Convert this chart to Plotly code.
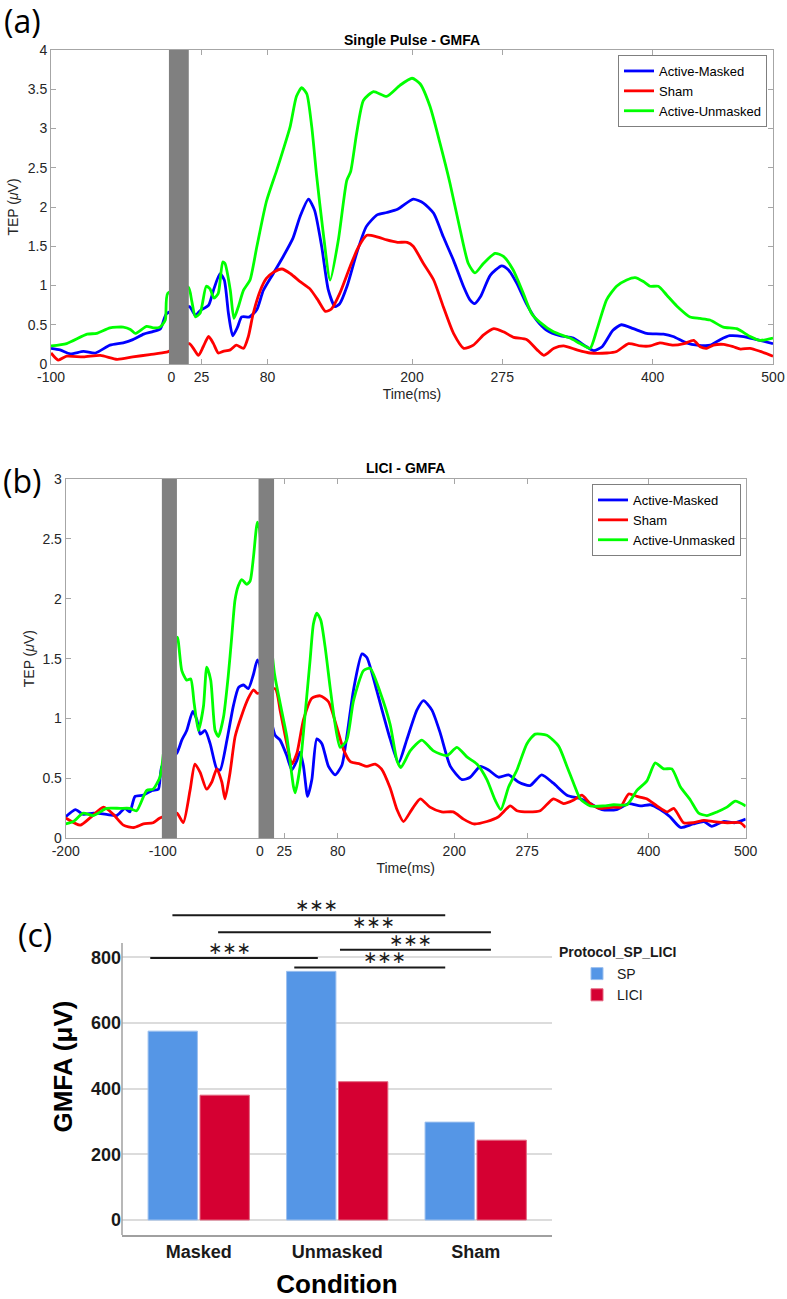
import plotly.graph_objects as go

W, H = 787, 1299

# ---------------- Panel (a): Single Pulse - GMFA ----------------
a_masked_t = [-100, -92.5, -84, -73, -63, -51, -40, -32, -23, -16, -9, -4,
              15, 20, 24, 31, 35, 40.5, 44, 47.5, 51, 55, 58.5, 65, 71, 76.5, 85, 93, 101, 107, 114, 119,
              125, 130.5, 136, 140, 146, 154, 162, 171, 179, 188, 201, 209.5, 218, 226, 234.5, 243,
              248, 252, 257, 265, 274.5, 280, 287, 295, 303.5, 312, 323, 334, 345, 351, 358, 367,
              374, 384, 395, 409, 417, 428, 437, 448, 456, 464, 475.5, 486.5, 500]
a_masked_v = [0.20, 0.18, 0.13, 0.16, 0.14, 0.24, 0.27, 0.31, 0.38, 0.41, 0.45, 0.64,
              0.73, 0.62, 0.68, 0.75, 0.94, 1.15, 1.07, 0.64, 0.36, 0.47, 0.60, 0.60, 0.69, 0.94, 1.16, 1.37, 1.60, 1.88, 2.10, 1.96,
              1.49, 0.94, 0.73, 0.77, 0.99, 1.41, 1.75, 1.90, 1.93, 1.97, 2.10, 2.05, 1.92, 1.62, 1.32, 0.98,
              0.82, 0.77, 0.86, 1.13, 1.25, 1.20, 1.03, 0.77, 0.56, 0.43, 0.36, 0.33, 0.22, 0.17, 0.22, 0.43,
              0.50, 0.45, 0.39, 0.38, 0.35, 0.27, 0.24, 0.24, 0.31, 0.36, 0.35, 0.31, 0.26]

a_sham_t = [-100, -94, -87, -73, -59, -45, -32, -18, -4,
            15, 22.5, 26.5, 31, 35, 39, 43, 49, 54, 60, 64, 68, 74, 79, 85, 92, 99, 107, 115, 122, 128,
            133, 140, 148.5, 155.5, 162.5, 171, 179, 188, 196, 201, 209.5, 218, 226, 234.5, 243, 251,
            259.5, 268, 276, 284.5, 295.5, 304, 309.5, 318, 326, 337, 348, 362, 370, 380, 390, 398,
            406, 417, 426, 434, 439.5, 445, 450.5, 459, 467, 473, 481, 489.5, 500]
a_sham_v = [0.14, 0.05, 0.10, 0.09, 0.11, 0.06, 0.09, 0.12, 0.15,
            0.26, 0.11, 0.22, 0.35, 0.26, 0.14, 0.16, 0.18, 0.24, 0.20, 0.35, 0.64, 0.94, 1.09, 1.17, 1.21, 1.15, 1.05, 0.96, 0.81, 0.67,
            0.70, 0.90, 1.24, 1.49, 1.64, 1.62, 1.58, 1.55, 1.55, 1.50, 1.28, 1.07, 0.73, 0.39, 0.20, 0.24,
            0.37, 0.45, 0.41, 0.34, 0.31, 0.18, 0.11, 0.20, 0.23, 0.18, 0.14, 0.14, 0.16, 0.26, 0.23, 0.23,
            0.27, 0.24, 0.26, 0.30, 0.22, 0.20, 0.24, 0.25, 0.22, 0.19, 0.20, 0.16, 0.10]

a_unmasked_t = [-100, -87, -70, -62, -51, -40, -34, -30, -20.5, -15, -9.5, -5, -3,
                14, 17, 20, 24, 29, 32, 35.5, 39, 42.7, 44.6, 49, 52, 55.7, 60, 65.4, 71, 79, 87.6, 93,
                98.7, 104, 108.4, 112.6, 116.7, 120.8, 126, 132, 139, 145.8, 149, 154, 159.7, 168, 179,
                190, 200, 206.7, 215, 223.3, 231.6, 240, 246.8, 252.4, 259.3, 269, 276, 284, 292.5, 299.5,
                306.4, 317.5, 331.4, 339.7, 348, 353.5, 361.8, 370, 378.4, 385.4, 392.3, 397.8, 404.7,
                411.6, 420, 431, 439.3, 447.6, 458.7, 469.8, 481, 489, 500]
a_unmasked_v = [0.23, 0.26, 0.38, 0.39, 0.46, 0.47, 0.44, 0.39, 0.48, 0.46, 0.47, 0.56, 0.90,
                0.98, 0.80, 0.60, 0.65, 0.99, 0.96, 0.84, 0.90, 1.30, 1.28, 0.94, 0.58, 0.73, 0.94, 1.07, 1.49, 2.07, 2.47, 2.73,
                3.02, 3.41, 3.52, 3.44, 3.02, 2.39, 1.70, 1.07, 1.60, 2.34, 2.45, 2.94, 3.36, 3.47, 3.41,
                3.55, 3.64, 3.57, 3.28, 2.81, 2.30, 1.71, 1.28, 1.16, 1.28, 1.41, 1.37, 1.20, 0.90, 0.64,
                0.53, 0.41, 0.33, 0.26, 0.20, 0.43, 0.82, 0.99, 1.07, 1.10, 1.05, 0.99, 0.99,
                0.88, 0.74, 0.60, 0.58, 0.56, 0.47, 0.45, 0.35, 0.30, 0.33]

# ---------------- Panel (b): LICI - GMFA ----------------
b_masked_t = [-200, -190, -182, -171.5, -158, -147.5, -139, -134, -128.6, -120, -111, -104.6, -101,
              -85.7, -80.5, -75.4, -69.2, -65, -61.6, -56.5, -51.3, -44.5, -41, -34, -27.3, -22, -17, -12, -6.7, -2.6,
              15.6, 20.7, 27.6, 32.8, 38, 41.3, 44.8, 49, 53.4, 58.5, 63.7, 70.5, 77.4, 84.3, 89.4, 96.3,
              105, 110, 120, 124, 134, 142.6, 151, 161.5, 168.3, 177, 185.5, 196, 208, 216.4, 226.7,
              235.3, 245.6, 256, 266, 278, 290, 302, 316, 330, 340, 352, 367, 379.5, 391.5, 402, 412,
              422, 433, 446, 457, 465, 477, 489, 500]
b_masked_v = [0.18, 0.24, 0.20, 0.21, 0.20, 0.19, 0.25, 0.22, 0.35, 0.36, 0.40, 0.41, 0.60,
              0.71, 0.82, 0.90, 1.06, 0.99, 0.87, 0.90, 0.79, 0.58, 0.57, 0.82, 1.11, 1.26, 1.28, 1.25, 1.37, 1.49,
              0.86, 0.82, 0.69, 0.57, 0.65, 0.72, 0.60, 0.35, 0.49, 0.83, 0.79, 0.60, 0.53, 0.61, 0.85, 1.24,
              1.54, 1.51, 1.24, 1.12, 0.83, 0.63, 0.82, 1.07, 1.15, 1.07, 0.88, 0.60, 0.49, 0.51, 0.60,
              0.57, 0.51, 0.53, 0.47, 0.44, 0.53, 0.46, 0.36, 0.33, 0.29, 0.24, 0.24, 0.29, 0.27, 0.28, 0.24,
              0.18, 0.09, 0.12, 0.14, 0.10, 0.14, 0.13, 0.16]

b_sham_t = [-200, -185, -175, -161, -151, -140.6, -130, -120, -110, -103,
            -85.7, -79, -72, -67, -61.6, -55, -49.6, -44.5, -39.3, -36, -30.8, -25.6, -18.7, -12, -6.7, -2.6,
            15.6, 20.7, 27.6, 32.8, 38, 44.8, 53.4, 62, 70.5, 79, 86, 93, 103, 110, 118.6, 125, 134, 141,
            147.7, 156.3, 165, 175, 187, 199, 209.5, 220, 233.6, 245.6, 257.6, 264.5, 276.5, 288.5, 302,
            312.5, 323, 331.4, 340, 350, 364, 371, 379.5, 388, 398, 408.6, 419, 426, 436, 446, 457, 467,
            481, 494.5, 500]
b_sham_v = [0.17, 0.11, 0.17, 0.26, 0.20, 0.11, 0.09, 0.12, 0.13, 0.17,
            0.21, 0.13, 0.40, 0.62, 0.55, 0.41, 0.47, 0.58, 0.47, 0.33, 0.55, 0.85, 1.03, 1.17, 1.24, 1.21,
            1.25, 1.07, 0.79, 0.62, 0.71, 0.99, 1.17, 1.19, 1.14, 0.93, 0.74, 0.64, 0.62, 0.60, 0.62, 0.58, 0.42, 0.24,
            0.14, 0.24, 0.33, 0.26, 0.22, 0.22, 0.16, 0.12, 0.14, 0.18, 0.27, 0.23, 0.22, 0.23, 0.33,
            0.29, 0.32, 0.36, 0.29, 0.25, 0.26, 0.26, 0.37, 0.35, 0.33, 0.27, 0.22, 0.25, 0.13, 0.13, 0.15, 0.14,
            0.13, 0.13, 0.09]

b_unmasked_t = [-200, -192, -182, -171.5, -158, -144, -134, -127, -116.6, -110, -103, -101,
                -85, -80.5, -75.4, -71.3, -67.8, -63.4, -58.2, -54.8, -50.7, -46.2, -42.8, -37.6, -32.5, -29.1,
                -25.7, -22.2, -18.7, -13.6, -10.1, -6.7, -2.6,
                15, 20.7, 27.6, 34.5, 36.2, 41.3, 46.5, 51.6, 55, 58.5, 62.6, 67, 72.2, 77.4, 82.5, 89.4,
                96.3, 106.6, 113.4, 123.7, 134, 141, 145, 154.6, 166.6, 178.6, 192.4, 202.7, 213, 223.3,
                233.6, 242, 248, 256, 264.5, 274.8, 283.3, 295.3, 307.4, 316, 322.8, 329.7, 340, 353.7,
                364, 377.7, 388, 398.3, 406.9, 415.5, 424, 432.7, 443, 451.6, 460, 470.4, 480.7, 489.3, 500]
b_unmasked_v = [0.12, 0.14, 0.21, 0.19, 0.25, 0.25, 0.25, 0.23, 0.40, 0.41, 0.51, 0.60,
                1.68, 1.40, 1.32, 1.33, 1.13, 0.90, 1.10, 1.43, 1.32, 0.90, 0.85, 1.01, 1.37, 1.68,
                1.99, 2.11, 2.16, 2.12, 2.15, 2.35, 2.64,
                1.37, 1.13, 0.85, 0.43, 0.38, 0.60, 1.04, 1.49, 1.79, 1.88, 1.82, 1.60, 1.26, 0.95, 0.76, 0.82,
                1.15, 1.40, 1.42, 1.22, 0.95, 0.65, 0.59, 0.73, 0.82, 0.73, 0.69, 0.76, 0.68, 0.62,
                0.49, 0.32, 0.24, 0.43, 0.57, 0.79, 0.87, 0.86, 0.77, 0.60, 0.46, 0.33, 0.27, 0.27,
                0.28, 0.28, 0.40, 0.48, 0.63, 0.58, 0.58, 0.43, 0.32, 0.21, 0.19, 0.22, 0.26, 0.31, 0.27]

series_names = ["Active-Masked", "Sham", "Active-Unmasked"]
series_colors = ["#0000FF", "#FF0000", "#00FF00"]

a_xticks = [-100, 0, 25, 80, 200, 275, 400, 500]
b_xticks = [-200, -100, 0, 25, 80, 200, 275, 400, 500]
a_yticks = [0, 0.5, 1, 1.5, 2, 2.5, 3, 3.5, 4]
b_yticks = [0, 0.5, 1, 1.5, 2, 2.5, 3]

# stimulation (TMS pulse) windows, ms
a_stim = [(-2, 14.5)]
b_stim = [(-101, -85.5), (-1.5, 14.5)]

# ---------------- Panel (c): bar chart ----------------
conditions = ["Masked", "Unmasked", "Sham"]
sp_values = [575, 757, 298]
lici_values = [380, 421, 243]
c_yticks = [0, 200, 400, 600, 800]

# significance brackets (category-index x positions, value y positions)
sig_x0 = [-0.19, 0.14, 1.02, -0.35, 0.69]
sig_x1 = [1.78, 2.11, 2.11, 0.86, 1.78]
sig_y = [928, 876, 823, 798, 769]
sig_label_x = [0.85, 1.26, 1.53, 0.22, 1.34]
sig_label = "∗∗∗"


def pxx(p):
    return p / W


def pxy(p):
    return 1 - p / H


def fmt(v):
    return ("%g" % v)


fig = go.Figure()

MFONT = "Liberation Sans, Arial, sans-serif"
TXT = "#262626"

for (t, v), name, col in zip([(a_masked_t, a_masked_v), (a_sham_t, a_sham_v), (a_unmasked_t, a_unmasked_v)],
                             series_names, series_colors):
    fig.add_trace(go.Scatter(x=t, y=v, mode="lines", name=name,
                             line=dict(color=col, width=2.8, shape="spline", smoothing=0.6),
                             xaxis="x", yaxis="y", legend="legend"))

for (t, v), name, col in zip([(b_masked_t, b_masked_v), (b_sham_t, b_sham_v), (b_unmasked_t, b_unmasked_v)],
                             series_names, series_colors):
    fig.add_trace(go.Scatter(x=t, y=v, mode="lines", name=name,
                             line=dict(color=col, width=2.8, shape="spline", smoothing=0.6),
                             xaxis="x2", yaxis="y2", legend="legend2"))

fig.add_trace(go.Bar(x=conditions, y=sp_values, name="SP",
                     marker=dict(color="#5596E6", line=dict(color="#9cc0ef", width=1)),
                     xaxis="x3", yaxis="y3", legend="legend3"))
fig.add_trace(go.Bar(x=conditions, y=lici_values, name="LICI",
                     marker=dict(color="#D50032", line=dict(color="#e3667f", width=1)),
                     xaxis="x3", yaxis="y3", legend="legend3"))

axis_common = dict(showline=True, linecolor="#a6a6a6", linewidth=1, mirror="ticks",
                   ticks="inside", ticklen=5, tickcolor="#a6a6a6", tickwidth=1,
                   showgrid=False, zeroline=False, automargin=False,
                   tickfont=dict(family=MFONT, size=14, color=TXT))

a_x0, a_x1, a_top, a_bot = 51, 773, 50, 364
b_x0, b_x1, b_top, b_bot = 65.7, 745.7, 479, 838.3
c_x0, c_x1, c_top, c_bot = 122, 552, 898.1, 1235

c_yrange = [-45.7, 980]

shapes = []
for lo, hi in a_stim:
    shapes.append(dict(type="rect", xref="x", yref="y domain", x0=lo, x1=hi, y0=0, y1=1,
                       fillcolor="#808080", line=dict(width=0), layer="above"))
for lo, hi in b_stim:
    shapes.append(dict(type="rect", xref="x2", yref="y2 domain", x0=lo, x1=hi, y0=0, y1=1,
                       fillcolor="#808080", line=dict(width=0), layer="above"))
# left axis line of panel (c), spanning value range of the axis frame
shapes.append(dict(type="line", xref="x3 domain", yref="y3", x0=0, x1=0, y0=c_yrange[0], y1=843.5,
                   line=dict(color="#a0a0a0", width=1.5)))
for x0, x1, y in zip(sig_x0, sig_x1, sig_y):
    shapes.append(dict(type="line", xref="x3", yref="y3", x0=x0, x1=x1, y0=y, y1=y,
                       line=dict(color="#1a1a1a", width=2)))


def ptext(text, x, y, font, xanchor="center"):
    return dict(text=text, x=pxx(x), y=pxy(y), xref="paper", yref="paper", showarrow=False,
                xanchor=xanchor, yanchor="middle", font=font)


LBL = dict(family="Open Sans, sans-serif", size=32, color="black")
annotations = [
    ptext("(a)", 22, 20, LBL),
    ptext("(b)", 22, 480, LBL),
    ptext("(c)", 35, 934, LBL),
    ptext("<b>Single Pulse - GMFA</b>", 412, 40, dict(family=MFONT, size=14, color="black")),
    ptext("<b>LICI - GMFA</b>", 405.7, 468, dict(family=MFONT, size=14, color="black")),
    ptext("<b>Protocol_SP_LICI</b>", 557, 952, dict(family=MFONT, size=14, color="#1a1a1a"), xanchor="left"),
]
for lx, y in zip(sig_label_x, sig_y):
    annotations.append(dict(text=sig_label, x=lx, y=y, xref="x3", yref="y3", xanchor="center",
                            yanchor="bottom", yshift=-2,
                            showarrow=False, font=dict(family="DejaVu Sans", size=17, color="#1a1a1a")))

legend_common = dict(bgcolor="white", bordercolor="#7f7f7f", borderwidth=1,
                     font=dict(family=MFONT, size=13, color="black"),
                     itemwidth=30, tracegroupgap=0, xanchor="right", yanchor="top")

tick_title_font = dict(family=MFONT, size=14, color=TXT)

fig.update_layout(
    width=W, height=H, autosize=False,
    margin=dict(l=0, r=0, t=0, b=0, autoexpand=False),
    paper_bgcolor="white", plot_bgcolor="white",
    barmode="group", bargap=0.25, bargroupgap=0.05,
    xaxis=dict(axis_common, domain=[pxx(a_x0), pxx(a_x1)], range=[-100, 500],
               tickvals=a_xticks, ticktext=[fmt(v) for v in a_xticks],
               anchor="y", title=dict(text="Time(ms)", standoff=5, font=tick_title_font)),
    yaxis=dict(axis_common, domain=[pxy(a_bot), pxy(a_top)], range=[0, 4],
               tickvals=a_yticks, ticktext=[fmt(v) for v in a_yticks],
               anchor="x", title=dict(text="TEP (<i>μ</i>V)", standoff=5, font=tick_title_font)),
    xaxis2=dict(axis_common, domain=[pxx(b_x0), pxx(b_x1)], range=[-200, 500],
                tickvals=b_xticks, ticktext=[fmt(v) for v in b_xticks],
                anchor="y2", title=dict(text="Time(ms)", standoff=5, font=tick_title_font)),
    yaxis2=dict(axis_common, domain=[pxy(b_bot), pxy(b_top)], range=[0, 3],
                tickvals=b_yticks, ticktext=[fmt(v) for v in b_yticks],
                anchor="x2", title=dict(text="TEP (<i>μ</i>V)", standoff=4, font=tick_title_font)),
    xaxis3=dict(domain=[pxx(c_x0), pxx(c_x1)], range=[-0.554, 2.551], type="category",
                categoryarray=conditions, categoryorder="array", anchor="y3", automargin=False,
                showline=True, linecolor="#a0a0a0", linewidth=1.5, ticks="", showgrid=False, zeroline=False,
                tickfont=dict(family=MFONT, size=18, color="#1a1a1a", weight="bold"),
                title=dict(text="Condition", standoff=14,
                           font=dict(family=MFONT, size=26, color="black", weight="bold"))),
    yaxis3=dict(domain=[pxy(c_bot), pxy(c_top)], range=c_yrange, tickvals=c_yticks, anchor="x3",
                automargin=False,
                showline=False, showgrid=True, gridcolor="#dcdcdc", gridwidth=1.5, zeroline=False, ticks="",
                tickfont=dict(family=MFONT, size=18, color="#1a1a1a", weight="bold"),
                title=dict(text="GMFA (μV)", standoff=10,
                           font=dict(family=MFONT, size=26, color="black", weight="bold"))),
    legend=dict(legend_common, x=pxx(767), y=pxy(55)),
    legend2=dict(legend_common, x=pxx(741), y=pxy(484)),
    legend3=dict(bgcolor="rgba(0,0,0,0)", borderwidth=0, font=dict(family=MFONT, size=14, color="#1a1a1a"),
                 itemwidth=30, tracegroupgap=0, x=pxx(577), y=pxy(958), xanchor="left", yanchor="top"),
    shapes=shapes,
    annotations=annotations,
)

fig.write_html("out.html", config={"displayModeBar": False},
               post_script="document.body.style.margin='0';document.body.style.overflow='hidden';")
